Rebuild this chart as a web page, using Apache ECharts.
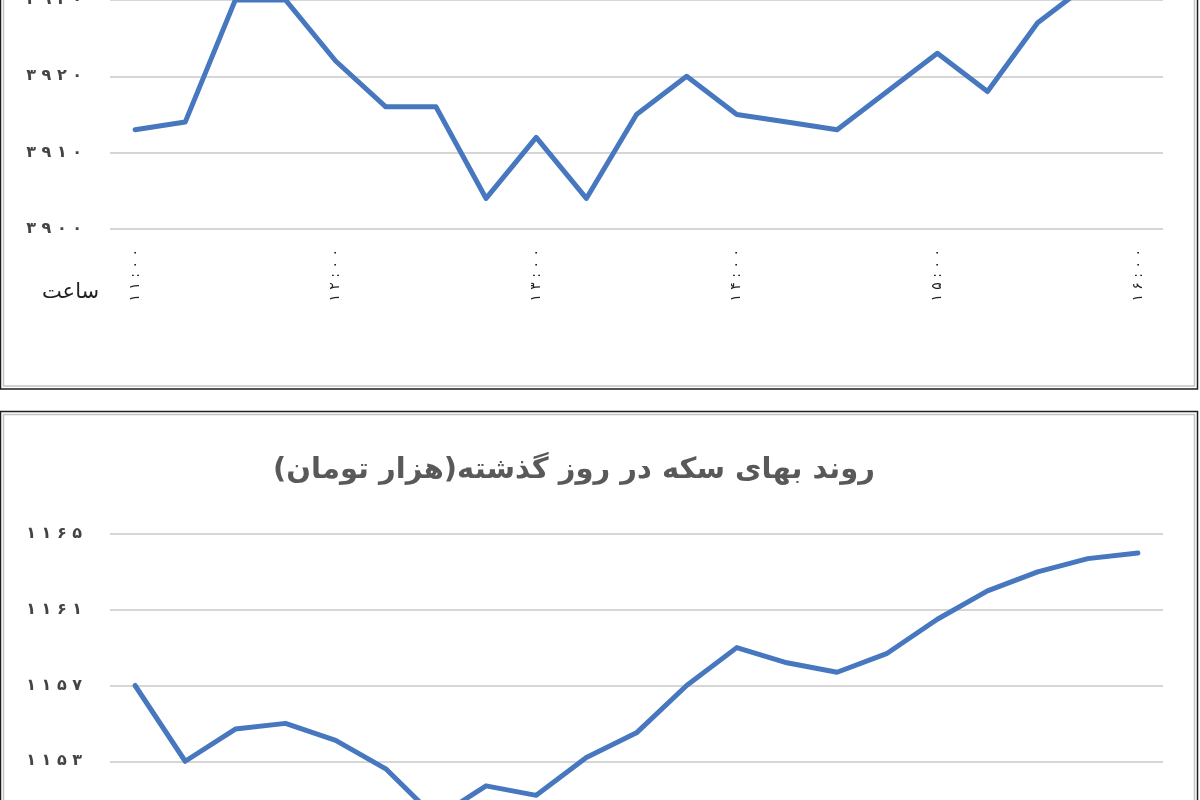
<!DOCTYPE html>
<html>
<head>
<meta charset="utf-8">
<script src="https://cdn.jsdelivr.net/npm/echarts@6/dist/echarts.min.js"></script>
<style>
  html, body { margin: 0; padding: 0; background: #fff; }
  #main { width: 1200px; height: 800px; }
</style>
</head>
<body>
<div id="main"></div>
<script>
// 15 minute steps from 11:00 to 16:00
var times = ['11:00', '11:15', '11:30', '11:45', '12:00', '12:15', '12:30', '12:45',
  '13:00', '13:15', '13:30', '13:45', '14:00', '14:15', '14:30', '14:45',
  '15:00', '15:15', '15:30', '15:45', '16:00'];

// top panel (its title is cut off above the picture)
var dollarRate = [3913, 3914, 3930, 3930, 3922, 3916, 3916, 3904, 3912, 3904, 3915,
  3920, 3915, 3914, 3913, 3918, 3923, 3918, 3927, 3932, 3934];

// bottom panel: coin price, thousand toman
var coinPrice = [1157, 1153, 1154.7, 1155, 1154.1, 1152.6, 1150, 1151.7, 1151.2, 1153.2, 1154.5,
  1157, 1159, 1158.2, 1157.7, 1158.7, 1160.5, 1162, 1163, 1163.7, 1164];

var coinTitle = 'روند بهای سکه در روز گذشته(هزار تومان)';
var xName = 'ساعت';

var faDigits = '۰۱۲۳۴۵۶۷۸۹';
function toFa(s) {
  return String(s).replace(/\d/g, function (d) { return faDigits[d]; });
}
// Excel style spread out digits
function spread(s) {
  return toFa(s).split('').join(' ');
}

var font = 'DejaVu Sans';
var lineColor = '#4677bf';
var gridColor = '#d6d6d6';
var labelColor = '#444';

var chart = echarts.init(document.getElementById('main'));

chart.setOption({
  backgroundColor: '#fff',
  animation: false,
  title: [{
    text: coinTitle,
    left: 569,
    top: 451,
    textAlign: 'center',
    textStyle: { fontFamily: font, fontSize: 29, fontWeight: 'bold', color: '#595959' }
  }],
  grid: [
    { left: 110, width: 1053, top: -76.5, height: 305.5, outerBoundsMode: 'none', containLabel: false },
    { left: 110, width: 1053, top: 534, height: 303, outerBoundsMode: 'none', containLabel: false }
  ],
  xAxis: [
    {
      gridIndex: 0, type: 'category', data: times, boundaryGap: true,
      axisLine: { show: false }, axisTick: { show: false },
      axisLabel: {
        interval: 3, rotate: 90, margin: 20,
        fontFamily: font, fontSize: 14, color: '#222',
        formatter: function (v) { return spread(v); }
      }
    },
    {
      gridIndex: 1, type: 'category', data: times, boundaryGap: true,
      axisLine: { show: false }, axisTick: { show: false },
      axisLabel: { show: false }
    }
  ],
  yAxis: [
    {
      gridIndex: 0, type: 'value', min: 3900, max: 3940, interval: 10,
      axisLine: { show: false }, axisTick: { show: false },
      splitLine: { lineStyle: { color: gridColor, width: 2 } },
      axisLabel: {
        margin: 28, fontFamily: font, fontSize: 16, fontWeight: 'bold', color: labelColor,
        formatter: function (v) { return spread(v); }
      }
    },
    {
      gridIndex: 1, type: 'value', min: 1149, max: 1165, interval: 4,
      axisLine: { show: false }, axisTick: { show: false },
      splitLine: { lineStyle: { color: gridColor, width: 2 } },
      axisLabel: {
        margin: 28, fontFamily: font, fontSize: 16, fontWeight: 'bold', color: labelColor,
        formatter: function (v) { return spread(v); }
      }
    }
  ],
  series: [
    {
      type: 'line', xAxisIndex: 0, yAxisIndex: 0, data: dollarRate,
      showSymbol: false, lineStyle: { color: lineColor, width: 5, cap: 'round', join: 'round' }
    },
    {
      type: 'line', xAxisIndex: 1, yAxisIndex: 1, data: coinPrice,
      showSymbol: false, lineStyle: { color: lineColor, width: 5, cap: 'round', join: 'round' }
    }
  ],
  graphic: [
    // panel frames: black outer line, light gray inner line
    { type: 'rect', shape: { x: 0.5, y: -20, width: 1197, height: 409 },
      style: { fill: null, stroke: '#1e1e1e', lineWidth: 1.5 } },
    { type: 'rect', shape: { x: 3.5, y: -20, width: 1191, height: 406 },
      style: { fill: null, stroke: '#c4c4c4', lineWidth: 1.5 } },
    { type: 'rect', shape: { x: 0.5, y: 411.5, width: 1197, height: 420 },
      style: { fill: null, stroke: '#1e1e1e', lineWidth: 1.5 } },
    { type: 'rect', shape: { x: 3.5, y: 414.5, width: 1191, height: 420 },
      style: { fill: null, stroke: '#c4c4c4', lineWidth: 1.5 } },
    { type: 'text', left: 42, top: 282,
      style: { text: xName, fontFamily: font, fontSize: 21, fill: '#222' } }
  ]
});
</script>
</body>
</html>
